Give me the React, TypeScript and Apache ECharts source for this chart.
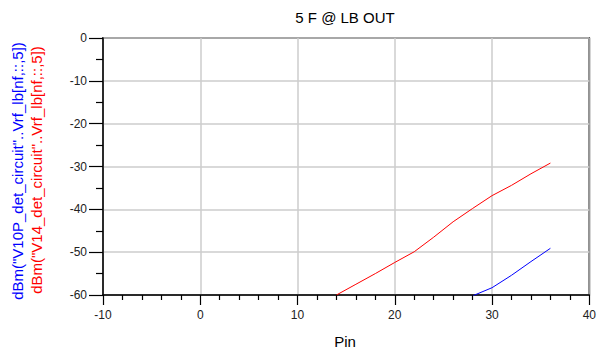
import React, { useEffect, useRef } from "react";
import * as echarts from "echarts";

const titleText = "5 F @ LB OUT";
const xName = "Pin";
const blueName = 'dBm("V10P_det_circuit"..Vrf_lb[nf,::,5])';
const redName = 'dBm("V14_det_circuit"..Vrf_lb[nf,::,5])';

const redPin = [14, 16, 18, 20, 22, 24, 26, 28, 30, 32, 34, 36];
const redValues = [-60, -57.5, -55, -52.4, -49.9, -46.5, -42.9, -39.8, -36.8, -34.4, -31.7, -29.2];
const bluePin = [28, 30, 32, 34, 36];
const blueValues = [-60.2, -58.3, -55.4, -52.2, -49.1];

const FONT = "'Liberation Sans', Arial, sans-serif";

export default function App() {
  const ref = useRef<HTMLDivElement>(null);
  useEffect(() => {
    if (!ref.current) return;
    const chart = echarts.init(ref.current, null, { renderer: "svg" });
    const redData = redPin.map((p, i) => [p, redValues[i]]);
    const blueData = bluePin.map((p, i) => [p, blueValues[i]]);
    chart.setOption({
      animation: false,
      backgroundColor: "#ffffff",
      grid: {
        left: 103,
        right: 9,
        top: 38,
        bottom: 56,
        show: true,
        borderColor: "#000",
        borderWidth: 1.5,
        backgroundColor: "transparent",
      },
      xAxis: {
        type: "value",
        min: -10,
        max: 40,
        interval: 10,
        axisLine: { show: true, onZero: false, lineStyle: { color: "#000", width: 1.5 } },
        axisTick: { show: true, length: 10, lineStyle: { color: "#000", width: 1.2 } },
        minorTick: { show: true, splitNumber: 5, length: 5, lineStyle: { color: "#000", width: 1.2 } },
        splitLine: { show: true, lineStyle: { color: "#cccccc", width: 1.5 } },
        axisLabel: { fontSize: 12, color: "#222", margin: 14, fontFamily: FONT },
      },
      yAxis: {
        type: "value",
        min: -60,
        max: 0,
        interval: 10,
        axisLine: { show: true, onZero: false, lineStyle: { color: "#000", width: 1.5 } },
        axisTick: { show: true, length: 14, lineStyle: { color: "#000", width: 1.2 } },
        minorTick: { show: true, splitNumber: 2, length: 7, lineStyle: { color: "#000", width: 1.2 } },
        splitLine: { show: true, lineStyle: { color: "#cccccc", width: 1.5 } },
        axisLabel: { fontSize: 12, color: "#222", margin: 16, fontFamily: FONT },
      },
      series: [
        {
          type: "line",
          data: redData,
          showSymbol: false,
          lineStyle: { color: "#ff0000", width: 1 },
          itemStyle: { color: "#ff0000" },
          clip: true,
          z: 3,
        },
        {
          type: "line",
          data: blueData,
          showSymbol: false,
          lineStyle: { color: "#0000ff", width: 1 },
          itemStyle: { color: "#0000ff" },
          clip: true,
          z: 3,
        },
      ],
      graphic: [
        {
          type: "text",
          x: 345,
          y: 17,
          style: {
            text: titleText,
            fontSize: 15,
            fontFamily: FONT,
            fill: "#000",
            textAlign: "center",
            textVerticalAlign: "middle",
          },
        },
        {
          type: "text",
          x: 345,
          y: 341,
          style: {
            text: xName,
            fontSize: 15,
            fontFamily: FONT,
            fill: "#000",
            textAlign: "center",
            textVerticalAlign: "middle",
          },
        },
        {
          type: "text",
          x: 17,
          y: 171,
          rotation: Math.PI / 2,
          style: {
            text: blueName,
            fontSize: 15,
            fontFamily: FONT,
            fill: "#0000ff",
            textAlign: "center",
            textVerticalAlign: "middle",
          },
        },
        {
          type: "text",
          x: 36,
          y: 170,
          rotation: Math.PI / 2,
          style: {
            text: redName,
            fontSize: 15,
            fontFamily: FONT,
            fill: "#ff0000",
            textAlign: "center",
            textVerticalAlign: "middle",
          },
        },
      ],
    });
    return () => chart.dispose();
  }, []);
  return (
    <div
      ref={ref}
      style={{ position: "fixed", left: 0, top: 0, width: 599, height: 351 }}
    />
  );
}
